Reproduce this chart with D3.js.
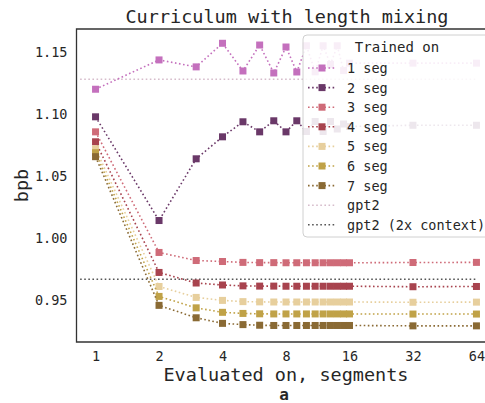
<!DOCTYPE html>
<html>
<head>
<meta charset="utf-8">
<script src="https://cdn.jsdelivr.net/npm/d3@7"></script>
<style>
  body { margin: 0; background: #fff; }
  text { font-family: "DejaVu Sans Mono", monospace; fill: #262626; }
</style>
</head>
<body>
<script>
// data
var segments = [1, 2, 3, 4, 5, 6, 7, 8, 9, 10, 11, 12, 13, 14, 15, 16, 32, 64];
var seriesNames = ["1 seg", "2 seg", "3 seg", "4 seg", "5 seg", "6 seg", "7 seg"];
var seriesColors = ["#c470bd", "#6a3868", "#cf6b78", "#a8434e", "#e7cf9d", "#c0a247", "#8a6a34"];
var seg1 = [1.120, 1.1436, 1.138, 1.157, 1.1347, 1.1556, 1.1331, 1.154, 1.1339, 1.155, 1.134, 1.155, 1.140, 1.155, 1.135, 1.141, 1.141, 1.141];
var seg2 = [1.0978, 1.0143, 1.064, 1.0817, 1.0938, 1.0857, 1.0946, 1.0857, 1.0946, 1.086, 1.094, 1.086, 1.094, 1.088, 1.092, 1.090, 1.091, 1.091];
var seg3 = [1.0857, 0.9886, 0.9821, 0.9813, 0.9806, 0.9804, 0.9804, 0.9803, 0.9803, 0.9803, 0.9803, 0.9803, 0.9803, 0.9803, 0.9803, 0.9803, 0.9805, 0.9806];
var seg4 = [1.0777, 0.9725, 0.9640, 0.9624, 0.9617, 0.9615, 0.9615, 0.9614, 0.9614, 0.9614, 0.9614, 0.9614, 0.9614, 0.9614, 0.9614, 0.9614, 0.9610, 0.9612];
var seg5 = [1.0721, 0.9612, 0.9524, 0.9500, 0.9490, 0.9488, 0.9487, 0.9487, 0.9487, 0.9487, 0.9487, 0.9487, 0.9487, 0.9487, 0.9487, 0.9487, 0.9485, 0.9486];
var seg6 = [1.0689, 0.9532, 0.9440, 0.9404, 0.9395, 0.9392, 0.9391, 0.9391, 0.9391, 0.9391, 0.9391, 0.9391, 0.9391, 0.9391, 0.9391, 0.9391, 0.9390, 0.9390];
var seg7 = [1.0657, 0.9460, 0.9360, 0.9315, 0.9305, 0.9300, 0.9298, 0.9298, 0.9298, 0.9298, 0.9298, 0.9298, 0.9298, 0.9298, 0.9298, 0.9298, 0.9295, 0.9295];
var allSeries = [seg1, seg2, seg3, seg4, seg5, seg6, seg7];
var refNames = ["gpt2", "gpt2 (2x context)"];
var refValues = [1.128, 0.967];
var refColors = ["#d6bccb", "#555555"];
var refExtent = [0.845, 64];
var xTicks = [1, 2, 4, 8, 16, 32, 64];
var yTicks = [0.95, 1.00, 1.05, 1.10, 1.15];

var W = 485, H = 403;
var margin = {left: 76.5, top: 29, right: 495.5, bottom: 342};

var svg = d3.select("body").append("svg")
  .attr("width", W).attr("height", H);

var x = d3.scaleLog().base(2)
  .domain([Math.pow(2, -0.3), Math.pow(2, 6.3)])
  .range([margin.left, margin.right]);
var y = d3.scaleLinear()
  .domain([0.9165, 1.1685])
  .range([margin.bottom, margin.top]);

var dots = "1.6,2.5";

// reference lines
refValues.forEach(function(v, i) {
  svg.append("line")
    .attr("x1", x(refExtent[0])).attr("x2", x(refExtent[1]))
    .attr("y1", y(v)).attr("y2", y(v))
    .attr("stroke", refColors[i])
    .attr("stroke-width", 1.6)
    .attr("stroke-dasharray", dots);
});

var line = d3.line()
  .x(function(d, i) { return x(segments[i]); })
  .y(function(d) { return y(d); });

allSeries.forEach(function(vals, k) {
  var g = svg.append("g");
  g.append("path")
    .datum(vals)
    .attr("d", line)
    .attr("fill", "none")
    .attr("stroke", seriesColors[k])
    .attr("stroke-width", 1.6)
    .attr("stroke-dasharray", dots);
  g.selectAll("rect")
    .data(vals)
    .enter().append("rect")
      .attr("x", function(d, i) { return x(segments[i]) - 3.5; })
      .attr("y", function(d) { return y(d) - 3.5; })
      .attr("width", 7).attr("height", 7)
      .attr("fill", seriesColors[k]);
});

// frame
svg.append("path")
  .attr("d", "M" + (W + 2) + "," + margin.top + "H" + margin.left + "V" + margin.bottom + "H" + (W + 2))
  .attr("fill", "none")
  .attr("stroke", "#333")
  .attr("stroke-width", 1.3);

// x axis
var xAxis = svg.append("g")
  .attr("transform", "translate(0," + margin.bottom + ")")
  .call(d3.axisBottom(x).tickValues(xTicks).tickFormat(d3.format("d")).tickSize(0).tickPadding(9));
xAxis.select(".domain").remove();
xAxis.selectAll("text")
  .style("font-family", "DejaVu Sans Mono")
  .style("font-size", "13.5px")
  .attr("fill", "#262626");

// y axis
var yAxis = svg.append("g")
  .attr("transform", "translate(" + margin.left + ",0)")
  .call(d3.axisLeft(y).tickValues(yTicks).tickFormat(d3.format(".2f")).tickSize(0).tickPadding(9));
yAxis.select(".domain").remove();
yAxis.selectAll("text")
  .style("font-family", "DejaVu Sans Mono")
  .style("font-size", "13.5px")
  .attr("fill", "#262626");

// titles
svg.append("text")
  .attr("x", 287).attr("y", 23)
  .attr("text-anchor", "middle")
  .style("font-size", "18.5px")
  .text("Curriculum with length mixing");

svg.append("text")
  .attr("x", 286).attr("y", 381)
  .attr("text-anchor", "middle")
  .style("font-size", "18.5px")
  .text("Evaluated on, segments");

svg.append("text")
  .attr("transform", "translate(28," + ((margin.top + margin.bottom) / 2) + ") rotate(-90)")
  .attr("text-anchor", "middle")
  .style("font-size", "18.5px")
  .text("bpb");

svg.append("text")
  .attr("x", 284).attr("y", 400)
  .attr("text-anchor", "middle")
  .style("font-size", "16px")
  .style("font-weight", "bold")
  .text("a");

// legend
var lg = svg.append("g").attr("transform", "translate(303,35)");
lg.append("rect")
  .attr("width", 186).attr("height", 202)
  .attr("rx", 4)
  .attr("fill", "white").attr("fill-opacity", 0.88)
  .attr("stroke", "#d0d0d0");
lg.append("text")
  .attr("x", 94).attr("y", 17)
  .attr("text-anchor", "middle")
  .style("font-size", "14px")
  .text("Trained on");

var rowY = function(i) { return 33 + i * 19.6; };
seriesNames.forEach(function(name, i) {
  var r = lg.append("g").attr("transform", "translate(0," + rowY(i) + ")");
  r.append("line")
    .attr("x1", 5).attr("x2", 33)
    .attr("stroke", seriesColors[i]).attr("stroke-width", 1.6)
    .attr("stroke-dasharray", dots);
  r.append("rect")
    .attr("x", 15.5).attr("y", -3.5).attr("width", 7).attr("height", 7)
    .attr("fill", seriesColors[i]);
  r.append("text")
    .attr("x", 44).attr("y", 5)
    .style("font-size", "13.5px")
    .text(name);
});
refNames.forEach(function(name, j) {
  var r = lg.append("g").attr("transform", "translate(0," + rowY(7 + j) + ")");
  r.append("line")
    .attr("x1", 5).attr("x2", 33)
    .attr("stroke", refColors[j]).attr("stroke-width", 1.6)
    .attr("stroke-dasharray", dots);
  r.append("text")
    .attr("x", 44).attr("y", 5)
    .style("font-size", "13.5px")
    .text(name);
});
</script>
</body>
</html>
